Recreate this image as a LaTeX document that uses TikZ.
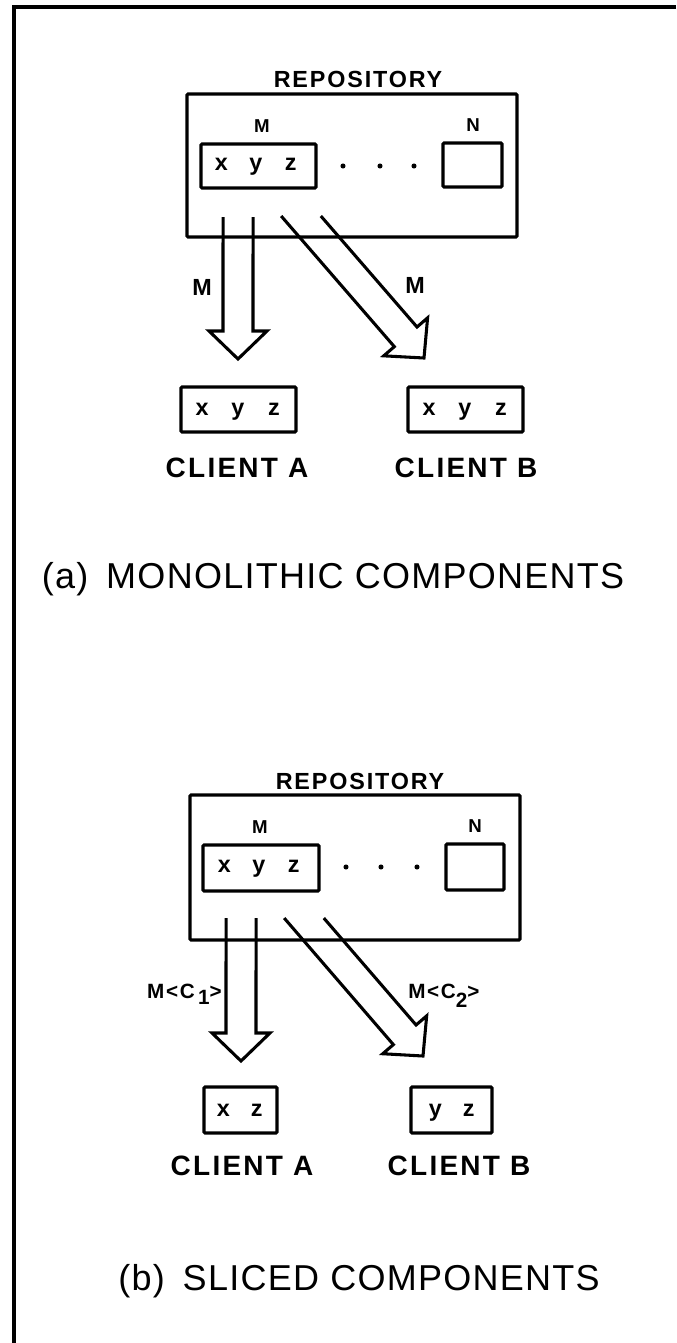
\documentclass[tikz,border=0pt]{standalone}
\usepackage{fontspec}
\setmainfont{Liberation Sans}
\newfontfamily\plotfont[LetterSpace=8]{Liberation Sans}
\newfontfamily\capfont[LetterSpace=3.5]{Liberation Sans}
\usetikzlibrary{calc}
\newcommand\blockarr[2]{%
  \path ($(#2)!21pt!(#1)$) coordinate (hb)
        ($(hb)!21.75pt!90:(#2)$) coordinate (w1)
        ($(hb)!21.75pt!-90:(#2)$) coordinate (w2)
        ($(hb)!11.25pt!90:(#2)$) coordinate (s1)
        ($(hb)!11.25pt!-90:(#2)$) coordinate (s2)
        ($(s1)+(#1)-(hb)$) coordinate (s1f)
        ($(s2)+(#1)-(hb)$) coordinate (s2f)
        ($(#1)+(10,0)$) coordinate (th);
  \draw[arr] (intersection of s1--s1f and #1--th) -- (s1) -- (w1) -- (#2)
        -- (w2) -- (s2) -- (intersection of s2--s2f and #1--th);
}
\begin{document}
\begin{tikzpicture}[x=0.75pt,y=-0.75pt,
  box/.style={draw, line width=2.3pt, inner sep=0pt, rounded corners=0.8pt},
  arr/.style={line width=2.3pt, line join=miter},
  lbl/.style={inner sep=0pt, anchor=base, font=\plotfont\bfseries\fontsize{#1}{#1}\selectfont},
  captxt/.style={inner sep=0pt, anchor=base, font=\capfont\fontsize{27}{27}\selectfont},
  dotn/.style={circle, fill, inner sep=0pt, minimum size=3.8pt},
  lt/.style={inline, font=\plotfont\bfseries\fontsize{17.5}{17.5}\selectfont},
  inline/.style={inner sep=0pt, anchor=base}]
\useasboundingbox (0,0) rectangle (676,1343);
% frame
\draw[line width=2.6pt] (676,7) -- (14,7) -- (14,1343);

% ===== (a) =====
\node[lbl=17.5] (rep1) at (358,87) {REPOSITORY};
\node[box, minimum width=247.5pt, minimum height=107.25pt] (repo1) at (352,165.5) {};
\node[lbl=14] (m1) at (262,132) {M};
\node[lbl=14] (n1) at (473,131) {N};
\node[box, minimum width=86.25pt, minimum height=33pt] (xyz1) at (258.5,166) {};
\node[lt] (xyz1t) at (256,170) {\makebox[26pt]{x}\makebox[26pt]{y}\makebox[26pt]{z}};
\node[dotn] (d11) at (343,166) {};
\node[dotn] (d12) at (380,166) {};
\node[dotn] (d13) at (414,166) {};
\node[box, minimum width=44.25pt, minimum height=33pt] (nb1) at (472.5,165) {};
\coordinate (a1s) at (238,217); \coordinate (a1t) at (238,359);
\coordinate (b1s) at (301,216); \coordinate (b1t) at (424,358);
\blockarr{a1s}{a1t}
\blockarr{b1s}{b1t}
\node[lbl=17.5] (ma) at (202,295) {M};
\node[lbl=17.5] (mb) at (415,293) {M};
\node[box, minimum width=86.25pt, minimum height=33.75pt] (ca1) at (238.5,409.5) {};
\node[lt] (ca1t) at (238,415) {\makebox[27pt]{x}\makebox[27pt]{y}\makebox[27pt]{z}};
\node[box, minimum width=86.25pt, minimum height=33.75pt] (cb1) at (465.5,409.5) {};
\node[lt] (cb1t) at (465,415) {\makebox[27pt]{x}\makebox[27pt]{y}\makebox[27pt]{z}};
\node[lbl=21] (cla1) at (237,477) {CLIENT A};
\node[lbl=21] (clb1) at (466,477) {CLIENT B};
\node[captxt] (capa) at (333,588) {(a)\hspace{5pt} MONOLITHIC COMPONENTS};

% ===== (b) =====
\node[lbl=17.5] (rep2) at (360,789) {REPOSITORY};
\node[box, minimum width=247.5pt, minimum height=108.75pt] (repo2) at (355,867.5) {};
\node[lbl=14] (m2) at (260,833) {M};
\node[lbl=14] (n2) at (475,832) {N};
\node[box, minimum width=87pt, minimum height=34.5pt] (xyz2) at (261,868) {};
\node[lt] (xyz2t) at (259,872) {\makebox[26pt]{x}\makebox[26pt]{y}\makebox[26pt]{z}};
\node[dotn] (d21) at (346,867) {};
\node[dotn] (d22) at (381,867) {};
\node[dotn] (d23) at (417,867) {};
\node[box, minimum width=43.5pt, minimum height=34.5pt] (nb2) at (475,867) {};
\coordinate (a2s) at (241,918); \coordinate (a2t) at (241,1061);
\coordinate (b2s) at (304,918); \coordinate (b2t) at (423,1056);
\blockarr{a2s}{a2t}
\blockarr{b2s}{b2t}
\node[lbl=15.5, anchor=base east] (mc1) at (222,998) {M<C\,\raisebox{-0.3em}{1}>};
\node[lbl=15.5, anchor=base west] (mc2) at (408,998) {M<C\raisebox{-0.45em}{2}>};
\node[box, minimum width=54.75pt, minimum height=34.5pt] (ca2) at (240.5,1110) {};
\node[lt] (ca2t) at (240,1116) {\makebox[25pt]{x}\makebox[25pt]{z}};
\node[box, minimum width=60.75pt, minimum height=34.5pt] (cb2) at (451.5,1110) {};
\node[lt] (cb2t) at (452,1116) {\makebox[25pt]{y}\makebox[25pt]{z}};
\node[lbl=21] (cla2) at (242,1175) {CLIENT A};
\node[lbl=21] (clb2) at (459,1175) {CLIENT B};
\node[captxt] (capb) at (359,1290) {(b)\hspace{5pt} SLICED COMPONENTS};
\end{tikzpicture}
\end{document}
